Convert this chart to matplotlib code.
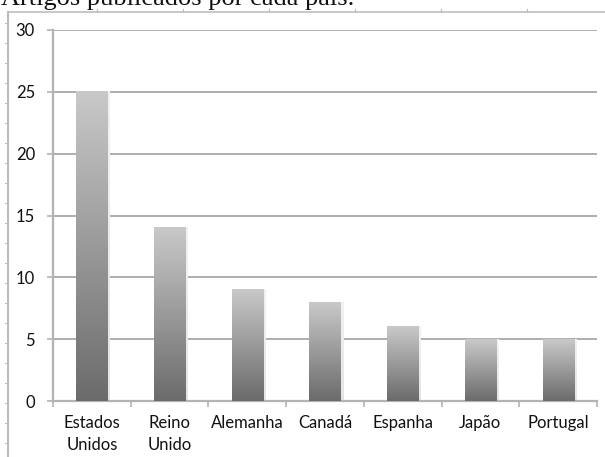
import numpy as np
import matplotlib.pyplot as plt
from matplotlib.lines import Line2D

# Artigos por país
paises = ['Estados\nUnidos', 'Reino\nUnido', 'Alemanha', 'Canadá', 'Espanha', 'Japão', 'Portugal']
artigos = [25, 14, 9, 8, 6, 5, 5]
y_ticks = [0, 5, 10, 15, 20, 25, 30]

W, H = 605, 457
fig = plt.figure(figsize=(W / 100, H / 100), dpi=100)
fig.patch.set_facecolor('white')

# moldura da página (linhas finas com marcas)
cor_moldura = '#bdbdbd'
fig.add_artist(Line2D([8 / W, 1], [1 - 12 / H, 1 - 12 / H], color=cor_moldura, lw=1.2))
fig.add_artist(Line2D([8 / W, 8 / W], [0, 1 - 12 / H], color=cor_moldura, lw=1.5))
for xm in np.arange(97, W, 86):
    fig.add_artist(Line2D([xm / W, xm / W], [1 - 12 / H, 1 - 9 / H], color=cor_moldura, lw=0.8))
for ym in np.arange(23, H, 20):
    fig.add_artist(Line2D([5 / W, 8 / W], [1 - ym / H, 1 - ym / H], color=cor_moldura, lw=0.8))

fig.text(1 / W, 1 - 5 / H, 'Artigos publicados por cada país.', family='Liberation Serif',
         fontsize=19, va='baseline', ha='left', color='#111111')

ax = fig.add_axes([53 / W, 1 - 401 / H, (597 - 53) / W, (401 - 30) / H])

x = np.arange(len(paises))
largura = 0.4
barras = ax.bar(x, artigos, width=largura, color='none', zorder=3)

# gradiente vertical em cada barra (claro em cima, escuro em baixo)
grad = np.linspace(0, 1, 256).reshape(-1, 1)
cmap = plt.matplotlib.colors.LinearSegmentedColormap.from_list('cinza', ['#6b6b6b', '#c9c9c9'])
sombra = plt.matplotlib.colors.LinearSegmentedColormap.from_list('s', ['#e4e4e4', '#f2f2f2'])
for b in barras:
    x0, w, h = b.get_x(), b.get_width(), b.get_height()
    # sombra leve à direita
    ax.imshow(grad, extent=[x0 + w, x0 + w + 0.03, 0, h], origin='lower', aspect='auto',
              cmap=sombra, zorder=2.5)
    ax.imshow(grad, extent=[x0, x0 + w, 0, h], origin='lower', aspect='auto', cmap=cmap, zorder=3)

ax.set_xlim(-0.5, len(paises) - 0.5)
ax.set_ylim(0, 30)
ax.set_yticks(y_ticks)
ax.set_xticks(x)
ax.set_xticklabels(paises, linespacing=1.45)
ax.set_xticks(np.arange(len(paises) + 1) - 0.5, minor=True)

ax.grid(axis='y', color='#a8a8a8', lw=1.3, zorder=1)
ax.set_axisbelow(True)

for s in ['top', 'right']:
    ax.spines[s].set_visible(False)
for s in ['left', 'bottom']:
    ax.spines[s].set_color('#b3b3b3')
    ax.spines[s].set_linewidth(1.6)

ax.tick_params(axis='y', length=4, width=1.2, color='#b3b3b3', pad=9)
ax.tick_params(axis='x', which='major', length=0, pad=10)
ax.tick_params(axis='x', which='minor', length=4, width=1.2, color='#b3b3b3')
for lab in ax.get_xticklabels() + ax.get_yticklabels():
    lab.set_fontfamily('Lato')
    lab.set_fontsize(12)
    lab.set_color('#111111')
for lab in ax.get_xticklabels():
    lab.set_verticalalignment('top')

fig.savefig('out.png', dpi=100)
